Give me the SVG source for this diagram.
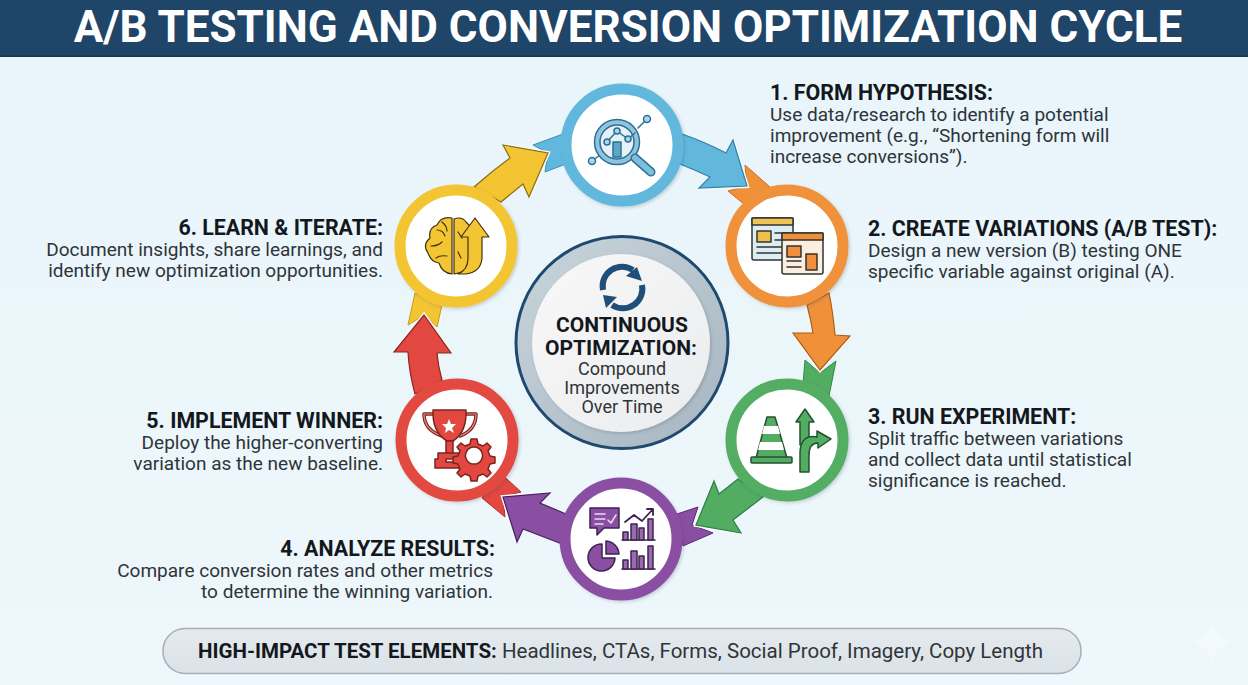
<svg xmlns="http://www.w3.org/2000/svg" width="1248" height="685" viewBox="0 0 1248 685">
<style>
text{font-family:Roboto,"Liberation Sans",sans-serif}
.h{font-size:21.4px;font-weight:700;fill:#14181d}
.b{font-size:19.05px;fill:#2f3438}
.c{font-size:18px;fill:#2f3438;text-anchor:middle}
.e{text-anchor:end}
.ring{fill:#fff;stroke-width:11;filter:url(#sh)}
.ic{stroke-linejoin:round;stroke-linecap:round}
.halo{fill:none;stroke:#f6fbfd;stroke-width:4}
</style>
<defs>
<filter id="sh" x="-20%" y="-20%" width="140%" height="140%"><feDropShadow dx="1.500" dy="1.500" stdDeviation="1.500" flood-color="#30404c" flood-opacity=".22"/></filter>
<linearGradient id="bg" x1="0" y1="0" x2="0" y2="1"><stop offset="0" stop-color="#e8f5fb"/><stop offset="1" stop-color="#eef7fb"/></linearGradient>
<linearGradient id="rim" x1="0" y1="0" x2="1" y2="1"><stop offset="0" stop-color="#c9d5dc"/><stop offset="1" stop-color="#a6b5c1"/></linearGradient>
<linearGradient id="disc" x1="0" y1="0" x2="1" y2="1"><stop offset="0" stop-color="#f8f8f8"/><stop offset="1" stop-color="#ebecee"/></linearGradient>
<linearGradient id="pill" x1="0" y1="0" x2="0" y2="1"><stop offset="0" stop-color="#e4eaee"/><stop offset="1" stop-color="#dbe2e7"/></linearGradient>
</defs>
<rect width="1248" height="685" fill="url(#bg)"/>
<rect width="1248" height="56.500" fill="#1f4568"/>
<rect y="55.500" width="1248" height="1.500" fill="#17344f"/>
<text x="628" y="41.500" text-anchor="middle" font-size="44" font-weight="700" fill="#fff">A/B TESTING AND CONVERSION OPTIMIZATION CYCLE</text>

<g id="connectors" stroke-linejoin="miter">
<path fill="#f0913a" stroke="#c9701f" stroke-width="1" d="M745 165L770 187L745 205L728 191L747 186Z"/>
<path fill="#52ad63" stroke="#2f8a45" stroke-width="1" d="M805 360L803 384L829 396L836 361L820 373Z"/>
<path fill="#8a4fa3" stroke="#5c2b77" stroke-width="1" d="M698 507L677 514L683 546L713 533L692 525Z"/>
<path fill="#e2483f" stroke="#b5302a" stroke-width="1" d="M482 498L505 517L503 497L521 492L507 479L495 470Z"/>
<path fill="#f3c533" stroke="#c99a14" stroke-width="1" d="M415 293L408 325L424 315L437 327L442 305Z"/>
<path fill="#62b8dc" stroke="#3a8fb8" stroke-width="1" d="M563 134L533 145L548 153L545 172L566 164Z"/>
<path class="halo" d="M733 140L747 186L699 188"/>
<path class="halo" d="M793 333L820 370L850 336"/>
<path class="halo" d="M714 481L696 525L741 533"/>
<path class="halo" d="M550 493L503 497L517 542"/>
<path class="halo" d="M394 352L424 315L451 353"/>
<path class="halo" d="M503 145L548 153L529 197"/>
<path fill="#62b8dc" stroke="#2e7fa8" stroke-width="1.200" d="M682 134Q705 142 726 153L733 140L747 186L699 188L710 177Q695 170 680 164Z"/>
<path fill="#f0913a" stroke="#a95f1a" stroke-width="1.200" d="M807 305Q811 320 813 333L793 333L820 370L850 336L835 335Q833 312 829 293Z"/>
<path fill="#52ad63" stroke="#2d7f42" stroke-width="1.200" d="M738 479L719 494L714 481L696 525L741 533L733 520L763 497Z"/>
<path fill="#8a4fa3" stroke="#44215e" stroke-width="1.200" d="M566 514L540 503L550 493L503 497L517 542L523 529L562 544Z"/>
<path fill="#e2483f" stroke="#8e2420" stroke-width="1.200" d="M415 394Q409 372 408 352L394 352L424 315L451 353L437 353Q438 366 442 380Z"/>
<path fill="#f3c533" stroke="#8b6d10" stroke-width="1.200" d="M474 187Q492 171 510 158L503 145L548 153L529 197L523 184L501 202Z"/>
</g>

<g id="node-center">
<circle cx="622" cy="342.500" r="106" fill="url(#rim)" stroke="#1e4a70" stroke-width="3"/>
<circle cx="621" cy="343" r="89" fill="url(#disc)" filter="url(#sh)"/>
<g fill="none" stroke="#1f4f78" stroke-width="6">
<path d="M603 290A19.500 19.500 0 0 1 633 270"/>
<path d="M642 285A19.500 19.500 0 0 1 612 305"/>
</g>
<path fill="#1f4f78" d="M626 276L637 267L642 281Z"/>
<path fill="#1f4f78" d="M603 295L617 297L606 308Z"/>
<text x="622" y="332" text-anchor="middle" font-size="21" font-weight="700" fill="#14181d">CONTINUOUS</text>
<text x="621" y="354.500" text-anchor="middle" font-size="21" font-weight="700" fill="#14181d">OPTIMIZATION:</text>
<text class="c" x="622" y="375">Compound</text>
<text class="c" x="622" y="394">Improvements</text>
<text class="c" x="622" y="413">Over Time</text>
</g>

<g id="node-1">
<circle class="ring" cx="622" cy="145" r="56" stroke="#62b8dc"/>
<g class="ic" fill="none" stroke="#2f6f93" stroke-width="1.500">
<path d="M592 161L600 155M638 128L647 119"/>
<circle cx="592" cy="161" r="3.500" fill="#a9d6ea"/><circle cx="647" cy="119" r="3.500" fill="#a9d6ea"/>
<circle cx="617" cy="142" r="22.500" fill="#8fc4de"/>
<circle cx="617" cy="142" r="17" fill="#e4f1f7"/>
<rect x="613" y="142" width="8" height="15" fill="#5ba6ca"/>
<path d="M607 142L617 131L628 139L635 133"/>
<circle cx="607" cy="142" r="3" fill="#a9d6ea"/><circle cx="617" cy="131" r="3" fill="#a9d6ea"/><circle cx="628" cy="139" r="3" fill="#a9d6ea"/>
<path stroke-width="9" d="M635 158L651 172"/>
<path stroke="#7cc0df" stroke-width="6" d="M635 158L651 172"/>
</g>
</g>

<g id="node-2">
<circle class="ring" cx="787" cy="246" r="56" stroke="#f0913a"/>
<g class="ic" stroke="#333" stroke-width="1.500">
<rect x="752" y="218" width="41" height="42" rx="2" fill="#dcedf3"/>
<rect x="752" y="218" width="41" height="7" fill="#eec454"/>
<rect x="757" y="231" width="14" height="11" fill="#edc04a"/>
<path fill="none" d="M775 233H789M775 240H789M757 247H789M757 253H789"/>
<rect x="782" y="233" width="41" height="41" rx="2" fill="#fbeede"/>
<rect x="782" y="233" width="41" height="7" fill="#ee8f3c"/>
<rect x="787" y="246" width="14" height="11" fill="#ee8f3c"/>
<rect x="806" y="254" width="11" height="16" fill="#ee8f3c"/>
<path fill="none" d="M787 261H801M787 267H801"/>
</g>
</g>

<g id="node-3">
<circle class="ring" cx="787" cy="440" r="56" stroke="#52ad63"/>
<g class="ic" stroke="#23512f" stroke-width="1.500" fill="#52ad63">
<path d="M767 417H775L787 458H756Z"/>
<path fill="#fff" stroke="none" d="M764 426H778L780 434H762Z"/>
<path fill="#fff" stroke="none" d="M760 442H782L784 450H758Z"/>
<rect x="751" y="457" width="41" height="6" rx="1"/>
<path d="M805 409L814 422H809V440L800 445V422H796Z"/>
<path d="M800 472V452Q801 434 817 437V431L831 439L818 448V443Q809 443 809 455V472Z"/>
</g>
</g>

<g id="node-4">
<circle class="ring" cx="621" cy="539" r="56" stroke="#8a4fa3"/>
<g class="ic" stroke="#3c2350" stroke-width="1.500">
<path fill="#8a4fa3" d="M590 508H619V528H604L597 535V528H590Z"/>
<path fill="none" stroke="#e9dcef" d="M595 514H605M595 519H605M595 524H603M608 520L611 523L616 515"/>
<path fill="#8a4fa3" d="M602 544A13.500 13.500 0 1 0 615 558H602Z"/>
<path fill="#8a4fa3" d="M606 541A14 14 0 0 1 619 554H606Z"/>
<path fill="none" d="M622 540H655M622 569H655"/>
<path fill="#9a69b0" d="M623 532h5v8h-5zM631 524h6v16h-6zM639 528h5v12h-5zM648 519h5v21h-5z"/>
<path fill="#9a69b0" d="M623 560h5v9h-5zM631 551h6v18h-6zM639 556h5v13h-5zM648 546h5v23h-5z"/>
<path fill="none" stroke-width="1.800" d="M625 522L634 515L642 521L653 509M647 509H653V515"/>
</g>
</g>

<g id="node-5">
<circle class="ring" cx="457" cy="440" r="56" stroke="#e2483f"/>
<g class="ic" stroke="#7a2420" stroke-width="1.500">
<path fill="none" stroke-width="3.500" d="M434 414H424Q424 430 442 436M466 414H476Q476 430 460 436"/>
<path fill="none" stroke="#f08a80" stroke-width="1.200" d="M434 414H424Q424 430 442 436M466 414H476Q476 430 460 436"/>
<path fill="#e2483f" d="M433 410H466Q467 432 453 441H447Q432 432 433 410Z"/>
<path fill="#fff" stroke="none" d="M449 419L451 424H456L452 428L454 433L449 430L445 433L446 428L442 424H447Z"/>
<path fill="#e2483f" d="M446 441H453V453H446ZM438 453H459V459H446V462H460V468H435V459H438Z"/>
<path transform="translate(-3 0)" fill="#e2483f" fill-rule="evenodd" d="M474 439h6l1 5 5 2 4-3 4 4-3 4 2 5 5 1v6l-5 1-2 5 3 4-4 4-4-3-5 2-1 5h-6l-1-5-5-2-4 3-4-4 3-4-2-5-5-1v-6l5-1 2-5-3-4 4-4 4 3 5-2zM477 447a8.500 8.500 0 1 0 .01 0z"/>
</g>
</g>

<g id="node-6">
<circle class="ring" cx="456" cy="246" r="56" stroke="#f3c533"/>
<g class="ic" stroke="#3f3310" stroke-width="1.200" fill="#f3c533">
<path d="M452 218Q441 216 437 225Q428 228 430 238Q422 245 428 253Q431 262 439 263Q442 273 452 274Z"/>
<path d="M454 219Q462 216 466 222L470 226V262Q468 272 454 274Z"/>
<path d="M475 218L489 237H482V258Q481 272 466 274H458Q468 270 468 258V237H461Z"/>
<path fill="none" d="M437 230Q443 230 445 236M431 246Q438 246 442 242M436 258Q440 255 447 256M442 222Q447 226 447 231M458 232L462 238M458 252L461 258"/>
</g>
</g>

<g id="labels">
<g id="label-1"><text class="h" x="770" y="99.500">1. FORM HYPOTHESIS:</text>
<text class="b" x="770" y="120.500">Use data/research to identify a potential</text>
<text class="b" x="770" y="142">improvement (e.g., “Shortening form will</text>
<text class="b" x="770" y="163">increase conversions”).</text></g>
<g id="label-2"><text class="h" x="868" y="236">2. CREATE VARIATIONS (A/B TEST):</text>
<text class="b" x="868" y="257">Design a new version (B) testing ONE</text>
<text class="b" x="868" y="278">specific variable against original (A).</text></g>
<g id="label-3"><text class="h" x="868" y="423.500">3. RUN EXPERIMENT:</text>
<text class="b" x="868" y="444.500">Split traffic between variations</text>
<text class="b" x="868" y="465.500">and collect data until statistical</text>
<text class="b" x="868" y="486.500">significance is reached.</text></g>
<g id="label-4"><text class="h e" x="495" y="556">4. ANALYZE RESULTS:</text>
<text class="b e" x="493" y="577">Compare conversion rates and other metrics</text>
<text class="b e" x="493" y="598">to determine the winning variation.</text></g>
<g id="label-5"><text class="h e" x="383" y="428">5. IMPLEMENT WINNER:</text>
<text class="b e" x="383" y="449">Deploy the higher-converting</text>
<text class="b e" x="383" y="470">variation as the new baseline.</text></g>
<g id="label-6"><text class="h e" x="383" y="235">6. LEARN &amp; ITERATE:</text>
<text class="b e" x="383" y="256">Document insights, share learnings, and</text>
<text class="b e" x="383" y="277">identify new optimization opportunities.</text></g>
</g>

<g id="bottom-bar">
<rect x="163" y="628.500" width="918" height="45" rx="22" fill="url(#pill)" stroke="#a3aeb6" stroke-width="1.500"/>
<text x="198" y="658" font-size="20.500" fill="#2f3438"><tspan font-weight="700" fill="#14181d">HIGH-IMPACT TEST ELEMENTS:</tspan> Headlines, CTAs, Forms, Social Proof, Imagery, Copy Length</text>
</g>
<path fill="#fff" opacity=".3" d="M1212 622Q1216 638 1232 642Q1216 646 1212 662Q1208 646 1192 642Q1208 638 1212 622Z"/>
</svg>
